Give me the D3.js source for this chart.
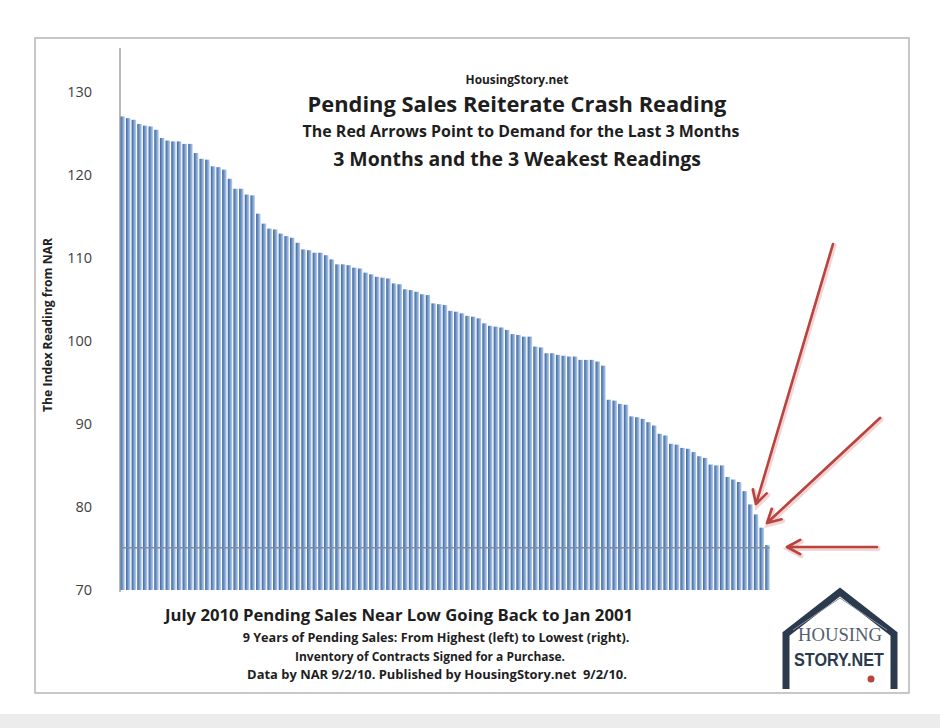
<!DOCTYPE html>
<html>
<head>
<meta charset="utf-8">
<script src="https://cdn.jsdelivr.net/npm/d3@7"></script>
<style>
  html, body { margin: 0; padding: 0; background: #ffffff; }
  svg { display: block; }
</style>
</head>
<body>
<script>
// Pending home sales index readings (NAR), Jan 2001 – Jul 2010, sorted highest to lowest
const readings = [
  127.0, 126.8, 126.6, 126.1, 125.9, 125.8, 125.4, 124.4, 124.1, 124.0,
  124.0, 123.7, 123.7, 122.6, 121.9, 121.8, 121.0, 120.9, 120.6, 119.5,
  118.3, 118.3, 117.6, 117.5, 115.3, 114.1, 113.5, 113.4, 112.9, 112.6,
  112.4, 111.8, 111.0, 110.9, 110.6, 110.6, 110.3, 109.8, 109.2, 109.2,
  109.1, 108.8, 108.7, 108.2, 108.0, 107.7, 107.6, 107.5, 106.9, 106.8,
  106.2, 106.1, 105.9, 105.6, 105.5, 104.5, 104.4, 104.3, 103.6, 103.5,
  103.3, 103.0, 102.9, 102.7, 102.1, 101.8, 101.7, 101.6, 101.3, 100.8,
  100.7, 100.5, 100.5, 99.3, 99.2, 98.5, 98.5, 98.3, 98.2, 98.1,
  98.1, 97.7, 97.7, 97.7, 97.5, 97.0, 92.9, 92.8, 92.4, 92.3,
  90.9, 90.8, 90.6, 90.2, 89.8, 88.8, 88.6, 87.6, 87.5, 87.1,
  87.0, 86.6, 86.1, 85.9, 85.1, 85.0, 85.0, 83.6, 83.3, 83.0,
  81.9, 80.3, 79.1, 77.5, 75.4
];
// Rank of each reading (1 = highest)
const ranks = readings.map((_, i) => i + 1);
// Y axis ticks
const yTicks = [70, 80, 90, 100, 110, 120, 130];
// Level of the weakest-reading reference line
const lowLevel = 75.1;

const W = 940, H = 728;
const font = "'Open Sans', Lato, sans-serif";
const svg = d3.select("body").append("svg").attr("width", W).attr("height", H);

// scale a text element's font size so it spans the given width
function fitWidth(sel, width) {
  sel.each(function () {
    const s = +this.getAttribute("font-size");
    const w = this.getComputedTextLength();
    if (w > 0) this.setAttribute("font-size", (s * width / w).toFixed(2));
  });
}

const defs = svg.append("defs");
const grad = defs.append("linearGradient").attr("id", "barFill")
  .attr("x1", "0%").attr("x2", "100%").attr("y1", "0%").attr("y2", "0%");
grad.append("stop").attr("offset", "0%").attr("stop-color", "#42659a");
grad.append("stop").attr("offset", "40%").attr("stop-color", "#6b8fc2");
grad.append("stop").attr("offset", "100%").attr("stop-color", "#bcd5f0");

// light grey strip along the bottom edge
svg.append("rect").attr("x", 0).attr("y", 714).attr("width", W).attr("height", 14).attr("fill", "#ececec");

// outer frame
svg.append("rect").attr("x", 35).attr("y", 38).attr("width", 874).attr("height", 655)
  .attr("fill", "#ffffff").attr("stroke", "#b5b5b5").attr("stroke-width", 1.5);

const x = d3.scaleBand().domain(ranks).range([120, 770]).paddingInner(0.2).paddingOuter(0.05);
const y = d3.scaleLinear().domain([70, 135]).range([590, 50]);

// bars
svg.append("g").selectAll("rect").data(readings).join("rect")
  .attr("x", (d, i) => x(ranks[i]))
  .attr("y", d => y(d))
  .attr("width", x.bandwidth())
  .attr("height", d => y(70) - y(d))
  .attr("fill", "url(#barFill)");

// reference line at the weakest reading level
svg.append("line")
  .attr("x1", 120).attr("x2", x(ranks[ranks.length - 1]) + x.bandwidth())
  .attr("y1", y(lowLevel)).attr("y2", y(lowLevel))
  .attr("stroke", "#7d8ea6").attr("stroke-width", 1.5);

// y axis
const yAxis = d3.axisLeft(y).tickValues(yTicks).tickSize(0).tickPadding(28);
const gy = svg.append("g").attr("transform", "translate(120,0)").call(yAxis);
gy.select(".domain").remove();
gy.selectAll("text").attr("font-family", font)
  .attr("font-size", 14.5).attr("fill", "#404040");
svg.append("line").attr("x1", 120).attr("x2", 120).attr("y1", 48).attr("y2", 592)
  .attr("stroke", "#8a8a8a").attr("stroke-width", 1.2);

const yTitle = svg.append("text")
  .attr("transform", "translate(52,325) rotate(-90)")
  .attr("text-anchor", "middle")
  .attr("font-family", font).attr("font-weight", "bold")
  .attr("font-size", 13).attr("fill", "#222")
  .text("The Index Reading from NAR");
fitWidth(yTitle, 174);

// titles
const titles = [
  { t: "HousingStory.net", x: 517, y: 84, s: 11, w: 103 },
  { t: "Pending Sales Reiterate Crash Reading", x: 517, y: 112, s: 20, w: 419 },
  { t: "The Red Arrows Point to Demand for the Last 3 Months", x: 521, y: 137, s: 13.5, w: 437 },
  { t: "3 Months and the 3 Weakest Readings", x: 517, y: 166, s: 17, w: 368 },
  { t: "July 2010 Pending Sales Near Low Going Back to Jan 2001", x: 399, y: 621, s: 17, w: 468 },
  { t: "9 Years of Pending Sales: From Highest (left) to Lowest (right).", x: 436, y: 642, s: 11, w: 387 },
  { t: "Inventory of Contracts Signed for a Purchase.", x: 430, y: 661, s: 11, w: 270 },
  { t: "Data by NAR 9/2/10. Published by HousingStory.net  9/2/10.", x: 437, y: 679, s: 11, w: 380 }
];
svg.append("g").selectAll("text").data(titles).join("text")
  .attr("x", d => d.x).attr("y", d => d.y)
  .attr("text-anchor", "middle")
  .attr("font-family", font).attr("font-weight", "bold")
  .attr("font-size", d => d.s).attr("fill", "#1e1e1e")
  .style("white-space", "pre")
  .text(d => d.t)
  .each(function (d) { fitWidth(d3.select(this), d.w); });

// red arrows pointing at the last three months
const arrows = [
  { from: [833, 244], to: [756, 504] },
  { from: [880, 418], to: [767, 523] },
  { from: [877, 547], to: [787, 547] }
];
const ag = svg.append("g");
arrows.forEach(a => {
  const [x1, y1] = a.from, [x2, y2] = a.to;
  const ang = Math.atan2(y2 - y1, x2 - x1);
  const L = 15, spread = 0.5;
  const h1 = [x2 - L * Math.cos(ang - spread), y2 - L * Math.sin(ang - spread)];
  const h2 = [x2 - L * Math.cos(ang + spread), y2 - L * Math.sin(ang + spread)];
  const p = `M${x1},${y1}L${x2},${y2}M${h1[0]},${h1[1]}L${x2},${y2}L${h2[0]},${h2[1]}`;
  ag.append("path").attr("d", p).attr("fill", "none")
    .attr("stroke", "#e7b7b5").attr("stroke-width", 5).attr("stroke-linecap", "round")
    .attr("transform", "translate(1,1.5)").attr("opacity", 0.6);
  ag.append("path").attr("d", p).attr("fill", "none")
    .attr("stroke", "#b8433f").attr("stroke-width", 2.6).attr("stroke-linecap", "round")
    .attr("stroke-linejoin", "round");
});

// house logo
const logo = svg.append("g");
logo.append("path")
  .attr("d", "M786,689 L786,634 L840,592 L894,634 L894,689")
  .attr("fill", "none").attr("stroke", "#2c3a4d").attr("stroke-width", 7)
  .attr("stroke-linejoin", "miter");
logo.append("path")
  .attr("d", "M793,630 L840,598 L887,630")
  .attr("fill", "none").attr("stroke", "#8a96a6").attr("stroke-width", 1);
logo.append("text").attr("x", 840).attr("y", 641).attr("text-anchor", "middle")
  .attr("font-family", "'Liberation Serif', serif").attr("font-size", 19)
  .attr("textLength", 84).attr("lengthAdjust", "spacingAndGlyphs")
  .attr("fill", "#55606e").text("HOUSING");
logo.append("text").attr("x", 839).attr("y", 666).attr("text-anchor", "middle")
  .attr("font-family", "'Liberation Sans', sans-serif").attr("font-weight", "bold").attr("font-size", 19)
  .attr("textLength", 90).attr("lengthAdjust", "spacingAndGlyphs")
  .attr("fill", "#2c3a4d").text("STORY.NET");
logo.append("circle").attr("cx", 871).attr("cy", 679).attr("r", 3.5).attr("fill", "#b8433f");
</script>
</body>
</html>
